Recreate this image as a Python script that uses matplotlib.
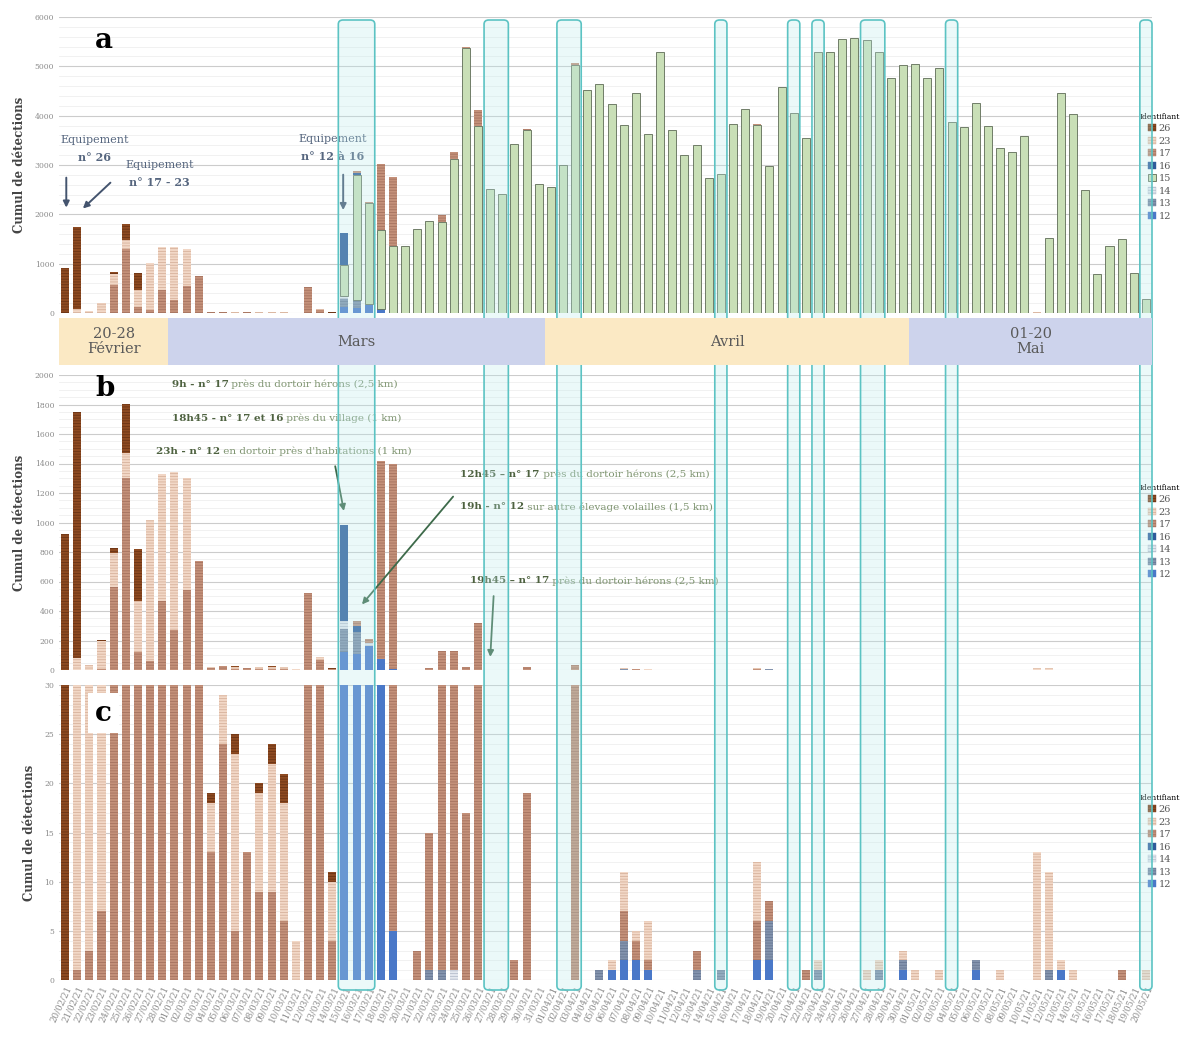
import numpy as np
import pandas as pd
import matplotlib.pyplot as plt
from matplotlib.patches import Patch, FancyBboxPatch

plt.rcParams['font.family'] = ['DejaVu Serif', 'DejaVu Sans']
plt.rcParams['hatch.linewidth'] = 0.6

# one bar per day, 20/02/21 -> 20/05/21
dates = pd.date_range('2021-02-20', '2021-05-20').strftime('%d/%m/%y').tolist()
days = np.arange(len(dates))

# detections per day and per bird id
id_26 = [920, 1670, 0, 5, 40, 330, 350, 0, 0, 0,
         0, 0, 1, 0, 2, 0, 1, 2, 3, 0,
         0, 0, 1, 0, 0, 0, 0, 0, 0, 0,
         0, 0, 0, 0, 0, 0, 0, 0, 0, 0,
         0, 0, 0, 0, 0, 0, 0, 0, 0, 0,
         0, 0, 0, 0, 0, 0, 0, 0, 0, 0,
         0, 0, 0, 0, 0, 0, 0, 0, 0, 0,
         0, 0, 0, 0, 0, 0, 0, 0, 0, 0,
         0, 0, 0, 0, 0, 0, 0, 0, 0, 0]
id_23 = [0, 80, 31, 190, 230, 170, 350, 960, 860, 1070,
         760, 0, 5, 5, 18, 0, 10, 13, 12, 4,
         0, 20, 6, 0, 0, 0, 0, 0, 0, 0,
         0, 0, 0, 0, 0, 0, 0, 0, 0, 0,
         0, 0, 0, 0, 0, 1, 4, 1, 4, 0,
         0, 0, 0, 0, 0, 0, 0, 6, 0, 0,
         0, 0, 1, 0, 0, 0, 1, 1, 0, 1,
         1, 0, 1, 0, 0, 0, 0, 1, 0, 0,
         13, 10, 1, 1, 0, 0, 0, 0, 0, 1]
id_17 = [0, 1, 3, 7, 560, 1300, 120, 60, 470, 270,
         540, 740, 13, 24, 5, 13, 9, 9, 6, 0,
         520, 70, 4, 0, 30, 30, 1345, 1395, 0, 3,
         14, 129, 129, 17, 320, 0, 0, 2, 19, 0,
         0, 0, 35, 0, 0, 0, 3, 2, 1, 0,
         0, 0, 2, 0, 0, 0, 0, 4, 2, 0,
         0, 1, 0, 0, 0, 0, 0, 0, 0, 0,
         0, 0, 0, 0, 0, 0, 0, 0, 0, 0,
         0, 0, 0, 0, 0, 0, 0, 1, 0, 0]
id_16 = [0, 0, 0, 0, 0, 0, 0, 0, 0, 0,
         0, 0, 0, 0, 0, 0, 0, 0, 0, 0,
         0, 0, 0, 650, 40, 0, 0, 0, 0, 0,
         0, 0, 0, 0, 0, 0, 0, 0, 0, 0,
         0, 0, 0, 0, 0, 0, 0, 0, 0, 0,
         0, 0, 0, 0, 0, 0, 0, 0, 0, 0,
         0, 0, 0, 0, 0, 0, 0, 0, 0, 0,
         0, 0, 0, 0, 0, 0, 0, 0, 0, 0,
         0, 0, 0, 0, 0, 0, 0, 0, 0, 0]
id_15 = [0, 0, 0, 0, 0, 0, 0, 0, 0, 0,
         0, 0, 0, 0, 0, 0, 0, 0, 0, 0,
         0, 0, 0, 630, 2540, 2040, 1605, 1360, 1360, 1700,
         1855, 1850, 3130, 5370, 3795, 2510, 2410, 3420, 3710, 2610,
         2560, 3000, 5035, 4520, 4640, 4235, 3800, 4455, 3620, 5285,
         3710, 3200, 3400, 2735, 2815, 3830, 4135, 3815, 2970, 4580,
         4055, 3540, 5290, 5290, 5550, 5580, 5530, 5290, 4765, 5015,
         5045, 4765, 4960, 3875, 3775, 4250, 3790, 3345, 3265, 3590,
         0, 1510, 4460, 4030, 2490, 785, 1360, 1500, 815, 280]
id_14 = [0, 0, 0, 0, 0, 0, 0, 0, 0, 0,
         0, 0, 0, 0, 0, 0, 0, 0, 0, 0,
         0, 0, 0, 60, 0, 20, 0, 0, 0, 0,
         0, 0, 1, 0, 0, 0, 0, 0, 0, 0,
         0, 0, 0, 0, 0, 0, 0, 0, 0, 0,
         0, 0, 0, 0, 0, 0, 0, 0, 0, 0,
         0, 0, 0, 0, 0, 0, 0, 0, 0, 0,
         0, 0, 0, 0, 0, 0, 0, 0, 0, 0,
         0, 0, 0, 0, 0, 0, 0, 0, 0, 0]
id_13 = [0, 0, 0, 0, 0, 0, 0, 0, 0, 0,
         0, 0, 0, 0, 0, 0, 0, 0, 0, 0,
         0, 0, 0, 150, 150, 0, 0, 0, 0, 0,
         1, 1, 0, 0, 0, 0, 0, 0, 0, 0,
         0, 0, 0, 0, 1, 0, 2, 0, 0, 0,
         0, 0, 1, 0, 1, 0, 0, 0, 4, 0,
         0, 0, 1, 0, 0, 0, 0, 1, 0, 1,
         0, 0, 0, 0, 0, 1, 0, 0, 0, 0,
         0, 1, 0, 0, 0, 0, 0, 0, 0, 0]
id_12 = [0, 0, 0, 0, 0, 0, 0, 0, 0, 0,
         0, 0, 0, 0, 0, 0, 0, 0, 0, 0,
         0, 0, 0, 125, 110, 160, 75, 5, 0, 0,
         0, 0, 0, 0, 0, 0, 0, 0, 0, 0,
         0, 0, 0, 0, 0, 1, 2, 2, 1, 0,
         0, 0, 0, 0, 0, 0, 0, 2, 2, 0,
         0, 0, 0, 0, 0, 0, 0, 0, 0, 1,
         0, 0, 0, 0, 0, 1, 0, 0, 0, 0,
         0, 0, 1, 0, 0, 0, 0, 0, 0, 0]

series = {'12': id_12, '13': id_13, '14': id_14, '15': id_15,
          '16': id_16, '17': id_17, '23': id_23, '26': id_26}
stack_order = ['12', '13', '14', '15', '16', '17', '23', '26']

# days framed by the cyan boxes (first, last)
highlight_ranges = [(23, 25), (35, 36), (41, 42), (54, 54), (60, 60),
                    (62, 62), (66, 67), (73, 73), (89, 89)]

month_labels = ['20-28\nFévrier', 'Mars', 'Avril', '01-20\nMai']
month_colors = ['#fbe9c4', '#cdd3ec', '#fbe9c4', '#cdd3ec']

styles = {
    '26': dict(fc='#8e4b22', ec='#6a3314', lw=0, hatch='------'),
    '23': dict(fc='#f2d8c7', ec='#d7b29c', lw=0, hatch='------'),
    '17': dict(fc='#c4917a', ec='#a6735f', lw=0, hatch='------'),
    '16': dict(fc='#2f5b9b', ec='#2f5b9b', lw=0, hatch=None),
    '15': dict(fc='#c9dfb7', ec='#5e6b56', lw=0.6, hatch=None),
    '14': dict(fc='#e4e8ef', ec='#b5bdcc', lw=0, hatch='------'),
    '13': dict(fc='#8393ad', ec='#687894', lw=0, hatch='------'),
    '12': dict(fc='#4a78c8', ec='#4a78c8', lw=0, hatch=None),
}

W, H = 1195, 1044
fig = plt.figure(figsize=(W / 100, H / 100), dpi=100)


def rect(x0, y_top, x1, y_bot):
    return [x0 / W, 1 - y_bot / H, (x1 - x0) / W, (y_bot - y_top) / H]


ax_a = fig.add_axes(rect(59, 17, 1152, 313))
ax_m = fig.add_axes(rect(59, 318, 1152, 365))
ax_b = fig.add_axes(rect(59, 375, 1152, 670))
ax_c = fig.add_axes(rect(59, 685, 1152, 980))
xlim = (-0.5, len(dates) - 0.5)


def draw_stack(ax, with15):
    bottom = np.zeros(len(dates))
    for key in stack_order:
        if key == '15' and not with15:
            continue
        vals = np.array(series[key], dtype=float)
        st = styles[key]
        ax.bar(days, vals, 0.66, bottom=bottom, color=st['fc'], edgecolor=st['ec'],
               linewidth=st['lw'], hatch=st['hatch'], zorder=2)
        bottom += vals


def style_axis(ax, top, major, minor):
    ax.set_xlim(*xlim)
    ax.set_ylim(0, top)
    ax.set_yticks(np.arange(0, top + 1, major))
    ax.set_yticks(np.arange(0, top + 1, minor), minor=True)
    ax.grid(which='major', axis='y', color='#cccccc', lw=0.8)
    ax.grid(which='minor', axis='y', color='#ececec', lw=0.5)
    ax.set_axisbelow(True)
    for s in ax.spines.values():
        s.set_visible(False)
    ax.tick_params(which='both', length=0, labelsize=5.5, labelcolor='#8a8a8a')
    ax.set_ylabel('Cumul de détections', fontsize=8.5, fontweight='bold', color='#444444', labelpad=6)


def add_legend(ax, with15, ytop):
    handles = []
    for key in stack_order[::-1]:
        if key == '15' and not with15:
            continue
        st = styles[key]
        handles.append(Patch(facecolor=st['fc'], edgecolor=st['ec'], hatch=st['hatch'],
                             linewidth=max(st['lw'], 0.3), label=key))
    ax.legend(handles=handles, loc='upper left', bbox_to_anchor=(0.985, ytop), frameon=False,
              title='Identifiant', title_fontsize=5.5, fontsize=7, handlelength=0.8,
              handleheight=0.8, handletextpad=0.3, labelspacing=0.35, borderaxespad=0,
              labelcolor='#555555')


# panel a: all ids
draw_stack(ax_a, True)
style_axis(ax_a, 6000, 1000, 200)
ax_a.set_xticks([])
add_legend(ax_a, True, 0.69)
ax_a.text(0.033, 0.92, 'a', transform=ax_a.transAxes, fontsize=20, fontweight='bold', va='center')

slate = '#56667f'
for xt, yt, line2 in [(2.4, 3500, 'n° 26'), (7.8, 3000, 'n° 17 - 23'), (22.0, 3520, 'n° 12 à 16')]:
    ax_a.text(xt, yt, 'Equipement', ha='center', va='center', fontsize=8, color=slate)
    ax_a.text(xt, yt - 350, line2, ha='center', va='center', fontsize=8, color=slate, fontweight='bold')
arrow_a = dict(arrowstyle='-|>', color='#44546e', lw=1.4, mutation_scale=9)
ax_a.annotate('', xy=(0.1, 2080), xytext=(0.1, 2800), arrowprops=arrow_a)
ax_a.annotate('', xy=(1.3, 2080), xytext=(3.9, 2680), arrowprops=arrow_a)
ax_a.annotate('', xy=(22.9, 2030), xytext=(22.9, 2860), arrowprops=arrow_a)

# month band
ax_m.set_xlim(*xlim)
ax_m.set_ylim(0, 1)
ax_m.axis('off')
months = pd.to_datetime(dates, format='%d/%m/%y').month
for lab, col, m in zip(month_labels, month_colors, sorted(set(months))):
    idx = np.where(months == m)[0]
    ax_m.axvspan(idx[0] - 0.5, idx[-1] + 0.5, color=col, lw=0)
    ax_m.text((idx[0] + idx[-1]) / 2, 0.5, lab, ha='center', va='center', fontsize=10.5,
              color='#5a5a5a', linespacing=1.1)
ax_m.set_zorder(3)

# panels b and c: without id 15
for ax, top, major, minor in [(ax_b, 2000, 200, 50), (ax_c, 30, 5, 1)]:
    draw_stack(ax, False)
    style_axis(ax, top, major, minor)
    add_legend(ax, False, 0.645)
ax_b.set_xticks([])
ax_b.text(0.033, 0.955, 'b', transform=ax_b.transAxes, fontsize=20, fontweight='bold', va='center')
ax_c.text(0.033, 0.905, 'c', transform=ax_c.transAxes, fontsize=20, fontweight='bold', va='center',
          zorder=5, bbox=dict(facecolor='white', edgecolor='none', pad=5))
ax_c.set_xticks(days)
ax_c.set_xticklabels(dates, rotation=65, ha='right', rotation_mode='anchor', fontsize=6.2,
                     color='#8a8a8a')

bold_green, light_green = '#4e6240', '#7e9470'
notes_b = [
    (0.103, 0.969, '9h - n° 17', 'près du dortoir hérons (2,5 km)'),
    (0.103, 0.854, '18h45 - n° 17 et 16', 'près du village (1 km)'),
    (0.089, 0.742, '23h - n° 12', 'en dortoir près d\'habitations (1 km)'),
    (0.367, 0.664, '12h45 – n° 17', 'près du dortoir hérons (2,5 km)'),
    (0.367, 0.553, '19h - n° 12', 'sur autre élevage volailles (1,5 km)'),
    (0.376, 0.302, '19h45 – n° 17', 'près du dortoir hérons (2,5 km)'),
]
for xt, yt, bold, rest in notes_b:
    t = ax_b.text(xt, yt, bold, transform=ax_b.transAxes, fontsize=7.5, fontweight='bold',
                  color=bold_green, va='center', zorder=4)
    ax_b.annotate(' ' + rest, xy=(1, 0.5), xycoords=t, fontsize=7.5, color=light_green,
                  va='center', ha='left', zorder=4)
arrow_b = dict(arrowstyle='-|>', color='#3d6a4a', lw=1.3, mutation_scale=9)
ax_b.annotate('', xy=(23.0, 1060), xytext=(22.2, 1400), arrowprops=arrow_b)
ax_b.annotate('', xy=(24.3, 430), xytext=(32.1, 1190), arrowprops=arrow_b)
ax_b.annotate('', xy=(35.0, 70), xytext=(35.3, 520), arrowprops=arrow_b)

# cyan boxes spanning the three panels
pos = ax_a.get_position()


def fig_x(d):
    return pos.x0 + (d - xlim[0]) / (xlim[1] - xlim[0]) * pos.width


y_top, y_bot = 1 - 20 / H, 1 - 990 / H
for first, last in highlight_ranges:
    x0 = fig_x(first - 0.5)
    x1 = fig_x(last + 0.5)
    box = FancyBboxPatch((x0, y_bot), x1 - x0, y_top - y_bot,
                         boxstyle='round,pad=0,rounding_size=0.004', transform=fig.transFigure,
                         facecolor=(0.72, 0.92, 0.93, 0.28), edgecolor='#5cc3c3', lw=1.2, zorder=1)
    fig.add_artist(box)

fig.savefig('out.png', dpi=100)
